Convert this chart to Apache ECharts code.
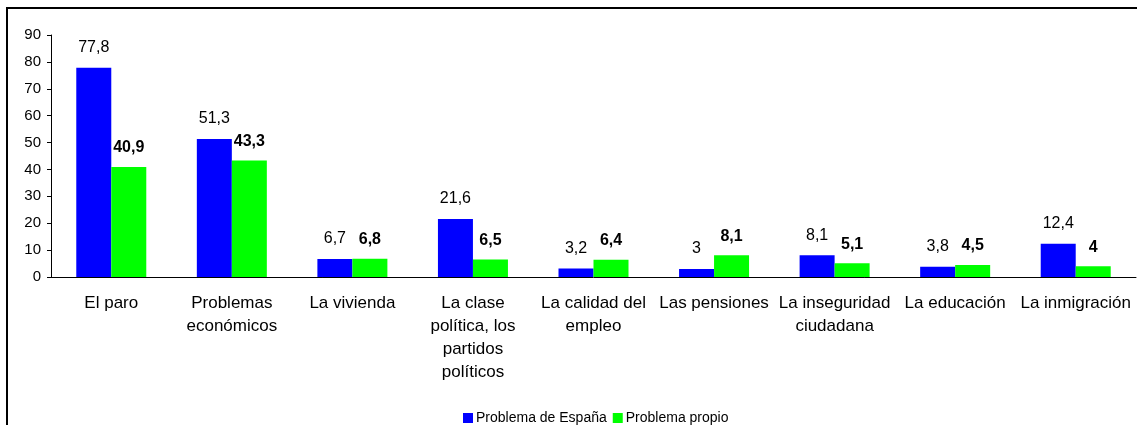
<!DOCTYPE html>
<html>
<head>
<meta charset="utf-8">
<script src="https://cdn.jsdelivr.net/npm/echarts@6/dist/echarts.min.js"></script>
<style>
  html, body { margin: 0; padding: 0; background: #fff; }
  #chart { width: 1137px; height: 425px; }
</style>
</head>
<body>
<div id="chart"></div>
<script>
const categories = [
  'El paro',
  'Problemas\necon\u00f3micos',
  'La vivienda',
  'La clase\npol\u00edtica, los\npartidos\npol\u00edticos',
  'La calidad del\nempleo',
  'Las pensiones',
  'La inseguridad\nciudadana',
  'La educaci\u00f3n',
  'La inmigraci\u00f3n'
]
const problemaEspana = [77.8, 51.3, 6.7, 21.6, 3.2, 3, 8.1, 3.8, 12.4]
const problemaPropio = [40.9, 43.3, 6.8, 6.5, 6.4, 8.1, 5.1, 4.5, 4]
const yTicks = [0, 10, 20, 30, 40, 50, 60, 70, 80, 90]

const font = 'Liberation Sans, Arial, sans-serif'
const comma = (p) => String(p.value).replace('.', ',')

const chart = echarts.init(document.getElementById('chart'))
chart.setOption({
  animation: false,
  textStyle: { fontFamily: font, color: '#000' },
  graphic: [{
    type: 'rect',
    shape: { x: 7, y: 8, width: 1200, height: 500 },
    style: { fill: 'none', stroke: '#000', lineWidth: 2 },
    silent: true
  }],
  legend: {
    left: 458,
    top: 406,
    itemWidth: 10,
    itemHeight: 10,
    itemGap: 6,
    icon: 'rect',
    textStyle: { fontFamily: font, fontSize: 14, color: '#000', padding: [0, 0, 0, -2] },
    data: ['Problema de Espa\u00f1a', 'Problema propio']
  },
  grid: {
    left: 51,
    right: 1,
    top: 35,
    bottom: 148,
    containLabel: false
  },
  xAxis: {
    type: 'category',
    data: categories,
    axisLine: { lineStyle: { color: '#000', width: 1 } },
    axisTick: { length: 6, lineStyle: { color: '#000' } },
    axisLabel: {
      interval: 0,
      margin: 15,
      fontSize: 17,
      lineHeight: 23,
      color: '#000',
      fontFamily: font
    }
  },
  yAxis: {
    type: 'value',
    min: yTicks[0],
    max: yTicks[yTicks.length - 1],
    interval: 10,
    splitLine: { show: false },
    axisLine: { show: true, lineStyle: { color: '#000', width: 1 } },
    axisTick: { show: true, length: 4, lineStyle: { color: '#000' } },
    axisLabel: { fontSize: 15, margin: 10, color: '#000', fontFamily: font }
  },
  series: [
    {
      name: 'Problema de Espa\u00f1a',
      type: 'bar',
      data: problemaEspana,
      barWidth: 35,
      barGap: '0%',
      itemStyle: { color: '#0000FF' },
      label: {
        show: true,
        position: 'top',
        distance: 12,
        fontSize: 16,
        color: '#000',
        fontFamily: font,
        formatter: comma
      }
    },
    {
      name: 'Problema propio',
      type: 'bar',
      data: problemaPropio,
      barWidth: 35,
      barGap: '0%',
      itemStyle: { color: '#00FF00' },
      label: {
        show: true,
        position: 'top',
        distance: 11,
        fontSize: 16,
        fontWeight: 'bold',
        color: '#000',
        fontFamily: font,
        formatter: comma
      }
    }
  ]
})
</script>
</body>
</html>
